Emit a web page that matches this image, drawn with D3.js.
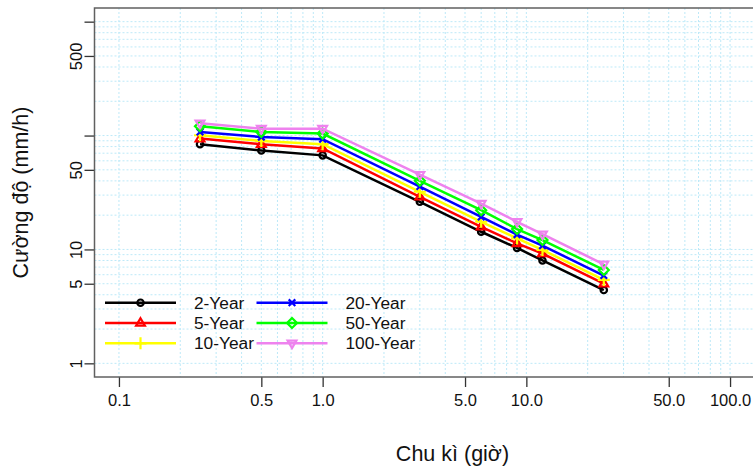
<!DOCTYPE html>
<html>
<head>
<meta charset="utf-8">
<script src="https://cdn.jsdelivr.net/npm/d3@7"></script>
<style>
  body { margin: 0; background: #fff; }
  svg { font-family: "Liberation Sans", Arial, sans-serif; }
</style>
</head>
<body>
<div id="chart"></div>
<script>
// durations (hours) and intensities (mm/h) per return period
const durations = [0.25, 0.5, 1, 3, 6, 9, 12, 24];
const year2 = [84, 74, 67, 26.2, 14.3, 10.3, 8.0, 4.4];
const year5 = [94, 84, 77, 29.0, 15.8, 11.3, 9.2, 5.0];
const year10 = [100.6, 89.7, 84, 32.1, 17.5, 12.5, 9.9, 5.4];
const year20 = [107.5, 97, 93, 35.7, 19.3, 13.5, 10.8, 5.9];
const year50 = [120.7, 107.5, 104, 40.1, 22.1, 15.1, 12.1, 6.6];
const year100 = [128, 115, 115, 45.3, 25.3, 17.5, 13.6, 7.4];

const seriesNames = ["2-Year", "5-Year", "10-Year", "20-Year", "50-Year", "100-Year"];
const seriesValues = [year2, year5, year10, year20, year50, year100];
const seriesColors = ["#000000", "#ff0000", "#ffff00", "#0000ff", "#00ff00", "#ee82ee"];
const seriesShapes = ["circle", "triangle", "plus", "cross", "diamond", "triangleDown"];

const xTicks = [0.1, 0.5, 1, 5, 10, 50, 100];
const xTickLabels = ["0.1", "0.5", "1.0", "5.0", "10.0", "50.0", "100.0"];
const yTicks = [1, 5, 10, 50, 100, 500, 1000];
const yTickLabels = ["1", "5", "10", "50", "", "500", ""];

const width = 753;
const height = 466;
const plot = {left: 94.5, right: 754.5, top: 8, bottom: 377};

// R style log axes with 4% padding on each side
const xScale = d3.scaleLog()
    .domain([Math.pow(10, -1.12), Math.pow(10, 2.12)])
    .range([plot.left, plot.right]);

const yScale = d3.scaleLog()
    .domain([Math.pow(10, -0.12), Math.pow(10, 3.12)])
    .range([plot.bottom, plot.top]);

const svg = d3.select('#chart')
    .append('svg')
    .attr('width', width)
    .attr('height', height);

// grid
const gridX = xScale.ticks().filter(v => v >= 0.1 && v <= 100);
const gridY = yScale.ticks().filter(v => v >= 1 && v <= 1000);

svg.append('g')
    .selectAll('line')
    .data(gridX)
    .join('line')
    .attr('x1', d => xScale(d))
    .attr('x2', d => xScale(d))
    .attr('y1', plot.top)
    .attr('y2', plot.bottom)
    .attr('stroke', '#bde9f8')
    .attr('stroke-width', 1)
    .attr('stroke-dasharray', '2,2');

svg.append('g')
    .selectAll('line')
    .data(gridY)
    .join('line')
    .attr('x1', plot.left)
    .attr('x2', plot.right)
    .attr('y1', d => yScale(d))
    .attr('y2', d => yScale(d))
    .attr('stroke', '#bde9f8')
    .attr('stroke-width', 1)
    .attr('stroke-dasharray', '2,2');

// axes
const xAxis = d3.axisBottom(xScale)
    .tickValues(xTicks)
    .tickFormat((d, i) => xTickLabels[i])
    .tickSize(10)
    .tickPadding(7);

const gx = svg.append('g')
    .attr('transform', `translate(0, ${plot.bottom})`)
    .call(xAxis);
gx.select('.domain').remove();
gx.selectAll('line').attr('stroke', '#333').attr('stroke-width', 1.3);
gx.selectAll('text')
    .attr('font-size', 16.5)
    .attr('font-family', '"Liberation Sans", Arial, sans-serif')
    .attr('fill', '#111');

const yAxis = d3.axisLeft(yScale)
    .tickValues(yTicks)
    .tickFormat((d, i) => yTickLabels[i])
    .tickSize(10);

const gy = svg.append('g')
    .attr('transform', `translate(${plot.left}, 0)`)
    .call(yAxis);
gy.select('.domain').remove();
gy.selectAll('line').attr('stroke', '#333').attr('stroke-width', 1.3);
gy.selectAll('text')
    .attr('transform', 'rotate(-90)')
    .attr('x', 0)
    .attr('y', -13)
    .attr('dy', 0)
    .attr('text-anchor', 'middle')
    .attr('font-size', 16.5)
    .attr('font-family', '"Liberation Sans", Arial, sans-serif')
    .attr('fill', '#111');

// box
svg.append('rect')
    .attr('x', plot.left)
    .attr('y', plot.top)
    .attr('width', plot.right - plot.left)
    .attr('height', plot.bottom - plot.top)
    .attr('fill', 'none')
    .attr('stroke', '#606060')
    .attr('stroke-width', 1.5);

// axis titles
svg.append('text')
    .attr('x', 452.5)
    .attr('y', 460.5)
    .attr('text-anchor', 'middle')
    .attr('font-size', 21.5)
    .attr('fill', '#111')
    .text('Chu kì (giờ)');

svg.append('text')
    .attr('transform', `translate(28, ${(plot.top + plot.bottom) / 2}) rotate(-90)`)
    .attr('text-anchor', 'middle')
    .attr('font-size', 21.5)
    .attr('fill', '#111')
    .text('Cường độ (mm/h)');

// marker glyphs, roughly R pch 1..6
function markerPath(shape) {
  if (shape === 'circle') return 'M3.2,0A3.2,3.2 0 1,1 -3.2,0A3.2,3.2 0 1,1 3.2,0Z';
  if (shape === 'triangle') return 'M0,-4.8L4.4,2.7L-4.4,2.7Z';
  if (shape === 'plus') return 'M-6,0H6M0,-6V6';
  if (shape === 'cross') return 'M-3.3,-3.3L3.3,3.3M-3.3,3.3L3.3,-3.3';
  if (shape === 'diamond') return 'M0,-5L5,0L0,5L-5,0Z';
  return 'M0,4.8L4.4,-2.7L-4.4,-2.7Z';
}

// lines and points
const line = d3.line()
    .x(d => xScale(d[0]))
    .y(d => yScale(d[1]));

seriesValues.forEach((vals, k) => {
  const pts = durations.map((d, i) => [d, vals[i]]);
  svg.append('path')
      .datum(pts)
      .attr('d', line)
      .attr('fill', 'none')
      .attr('stroke', seriesColors[k])
      .attr('stroke-width', 2.5);
  svg.append('g')
      .selectAll('path')
      .data(pts)
      .join('path')
      .attr('transform', d => `translate(${xScale(d[0])}, ${yScale(d[1])})`)
      .attr('d', markerPath(seriesShapes[k]))
      .attr('fill', 'none')
      .attr('stroke', seriesColors[k])
      .attr('stroke-width', 2.2);
});

// legend (two columns, three rows, no box)
const legend = svg.append('g');
const legendRowY = d3.scalePoint().domain([0, 1, 2]).range([302.7, 343.3]);
const legendColX = [105, 256.5];

seriesNames.forEach((name, k) => {
  const col = Math.floor(k / 3);
  const row = k % 3;
  const x0 = legendColX[col];
  const y0 = legendRowY(row);
  const item = legend.append('g').attr('transform', `translate(${x0}, ${y0})`);
  item.append('line')
      .attr('x1', 0)
      .attr('x2', 71)
      .attr('stroke', seriesColors[k])
      .attr('stroke-width', 2.5);
  item.append('path')
      .attr('transform', 'translate(35.5, 0)')
      .attr('d', markerPath(seriesShapes[k]))
      .attr('fill', 'none')
      .attr('stroke', seriesColors[k])
      .attr('stroke-width', 2.2);
  item.append('text')
      .attr('x', 89)
      .attr('dy', '0.35em')
      .attr('font-size', 17.3)
      .attr('fill', '#111')
      .text(name);
});
</script>
</body>
</html>
